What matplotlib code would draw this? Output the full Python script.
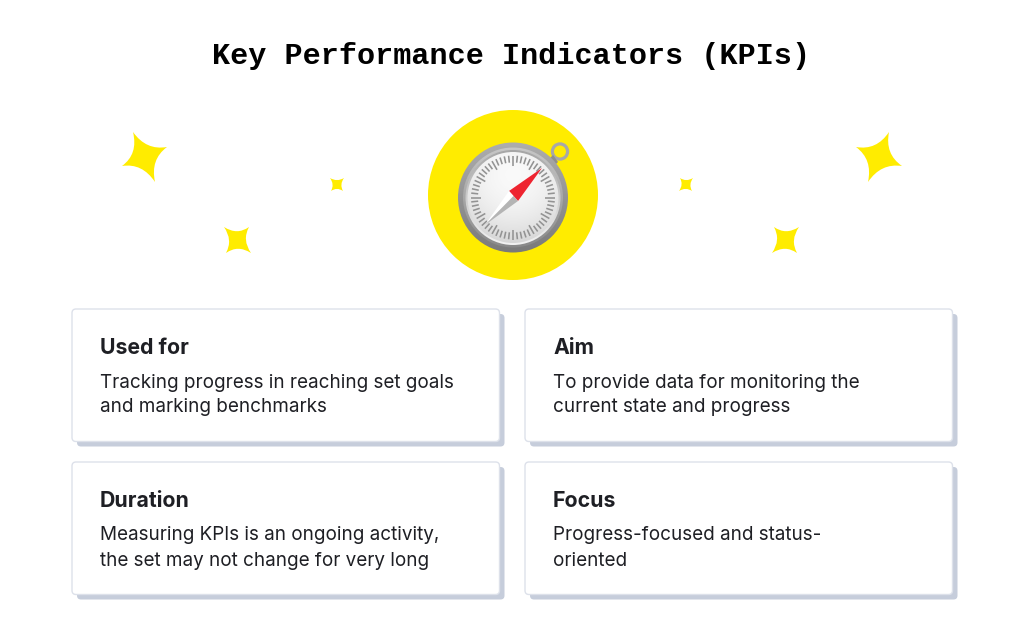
import numpy as np
import matplotlib
matplotlib.use("Agg")
import matplotlib.pyplot as plt
from matplotlib.patches import Circle, FancyBboxPatch, PathPatch, Polygon
from matplotlib.path import Path

CHART_TITLE = "Key Performance Indicators (KPIs)"
CARD_TITLES = ["Used for", "Aim", "Duration", "Focus"]
CARD_BODIES = [
    "Tracking progress in reaching set goals\nand marking benchmarks",
    "To provide data for monitoring the\ncurrent state and progress",
    "Measuring KPIs is an ongoing activity,\nthe set may not change for very long",
    "Progress-focused and status-\noriented",
]

YELLOW = "#FFEC00"
SHADOW = "#C6CDDB"
BORDER = "#DDE1EA"
INK = "#1E1F24"

fig = plt.figure(figsize=(10.24, 6.42), dpi=100)
ax = fig.add_axes([0, 0, 1, 1])
ax.axis("off")


def star(tips, k=0.35):
    tips = np.array(tips, float)
    c = tips.mean(axis=0)
    verts, codes = [tips[0]], [Path.MOVETO]
    for i in range(4):
        a, b = tips[i], tips[(i + 1) % 4]
        verts += [c + k * ((a + b) / 2 - c), b]
        codes += [Path.CURVE3, Path.CURVE3]
    ax.add_patch(PathPatch(Path(verts, codes), fc=YELLOW, ec="none", zorder=2))


for tips in [
    [(133, 132), (167, 147), (155, 182), (122, 166)],
    [(224, 227), (249, 227), (251, 253), (226, 253)],
    [(330, 178), (344, 178), (343, 191), (331, 191)],
    [(889, 132), (902, 166), (868, 182), (856, 147)],
    [(774, 227), (799, 227), (797, 253), (772, 253)],
    [(680, 178), (693, 178), (692, 191), (679, 191)],
]:
    star(tips)

ax.add_patch(Circle((513, 195), 85, fc=YELLOW, ec="none", zorder=2))


def radial_image(cx, cy, r, fn, zorder):
    pad = 2.0
    n = int(2 * (r + pad) * 3)
    xs = np.linspace(-1, 1, n) * (r + pad) / r
    X, Y = np.meshgrid(xs, xs)
    im = ax.imshow(fn(X, Y), extent=(cx - r - pad, cx + r + pad, cy + r + pad, cy - r - pad),
                   origin="upper", cmap="gray", vmin=0, vmax=1, zorder=zorder,
                   interpolation="bilinear")
    im.set_clip_path(Circle((cx, cy), r, transform=ax.transData))


CX, CY = 513, 197.5
# loop at top right
ax.add_patch(Circle((560, 151.5), 7.6, fc="none", ec="#A8A8A8", lw=2.3, zorder=3))
ax.add_patch(Polygon([(548, 160), (553, 155), (558, 162), (553, 167)], fc="#8E8E8E", ec="none", zorder=3))
# case
radial_image(CX, CY, 55, lambda X, Y: 0.58 - 0.10 * Y, 4)
radial_image(CX, CY, 50, lambda X, Y: 0.66 - 0.12 * Y, 5)
radial_image(CX, CY, 47.5, lambda X, Y: 0.80 + 0.15 * Y, 5)
# dial
radial_image(CX, CY, 45.5, lambda X, Y: 0.96 - 0.06 * Y - 0.06 * np.hypot(X, Y) ** 2, 6)
for i in range(60):
    t = 2 * np.pi * i / 60
    r0 = 32 if i % 5 == 0 else 35
    ax.plot([CX + r0 * np.cos(t), CX + 42 * np.cos(t)],
            [CY + r0 * np.sin(t), CY + 42 * np.sin(t)],
            color="#939393", lw=1.15, zorder=7, solid_capstyle="butt")
# needle
ax.add_patch(Polygon([(542, 168), (509, 191), (518, 201)], fc="#EE2430", ec="none", zorder=8))
ax.add_patch(Polygon([(485, 225), (509, 191), (513.5, 196)], fc="#FFFFFF", ec="none", zorder=8))
ax.add_patch(Polygon([(485, 225), (513.5, 196), (518, 201)], fc="#B4B4B4", ec="none", zorder=8))

CARD_W, CARD_H = 427.5, 132.5
CARD_X = [72, 525, 72, 525]
CARD_Y = [309, 309, 462, 462]
for x, y, head, body in zip(CARD_X, CARD_Y, CARD_TITLES, CARD_BODIES):
    ax.add_patch(FancyBboxPatch((x + 5, y + 5), CARD_W, CARD_H, boxstyle="round,pad=0,rounding_size=4",
                                fc=SHADOW, ec="none", zorder=2))
    ax.add_patch(FancyBboxPatch((x, y), CARD_W, CARD_H, boxstyle="round,pad=0,rounding_size=4",
                                fc="white", ec=BORDER, lw=1.0, zorder=3))
    ax.text(x + 28, y + 45, head, family="Inter", weight="bold", fontsize=15.3,
            color=INK, va="baseline", zorder=4)
    line1, line2 = body.split("\n")
    ax.text(x + 28, y + 78.5, line1, family="Inter", fontsize=13.6, color=INK, va="baseline", zorder=4)
    ax.text(x + 28, y + 103.5, line2, family="Inter", fontsize=13.6, color=INK, va="baseline", zorder=4)

ax.text(511, 56, CHART_TITLE, family="Liberation Mono", weight="bold", fontsize=21.7,
        color="black", ha="center", va="center", zorder=4)

ax.set_xlim(0, 1024)
ax.set_ylim(642, 0)
ax.set_aspect("auto")
fig.savefig("out.png", dpi=100, facecolor="white")
